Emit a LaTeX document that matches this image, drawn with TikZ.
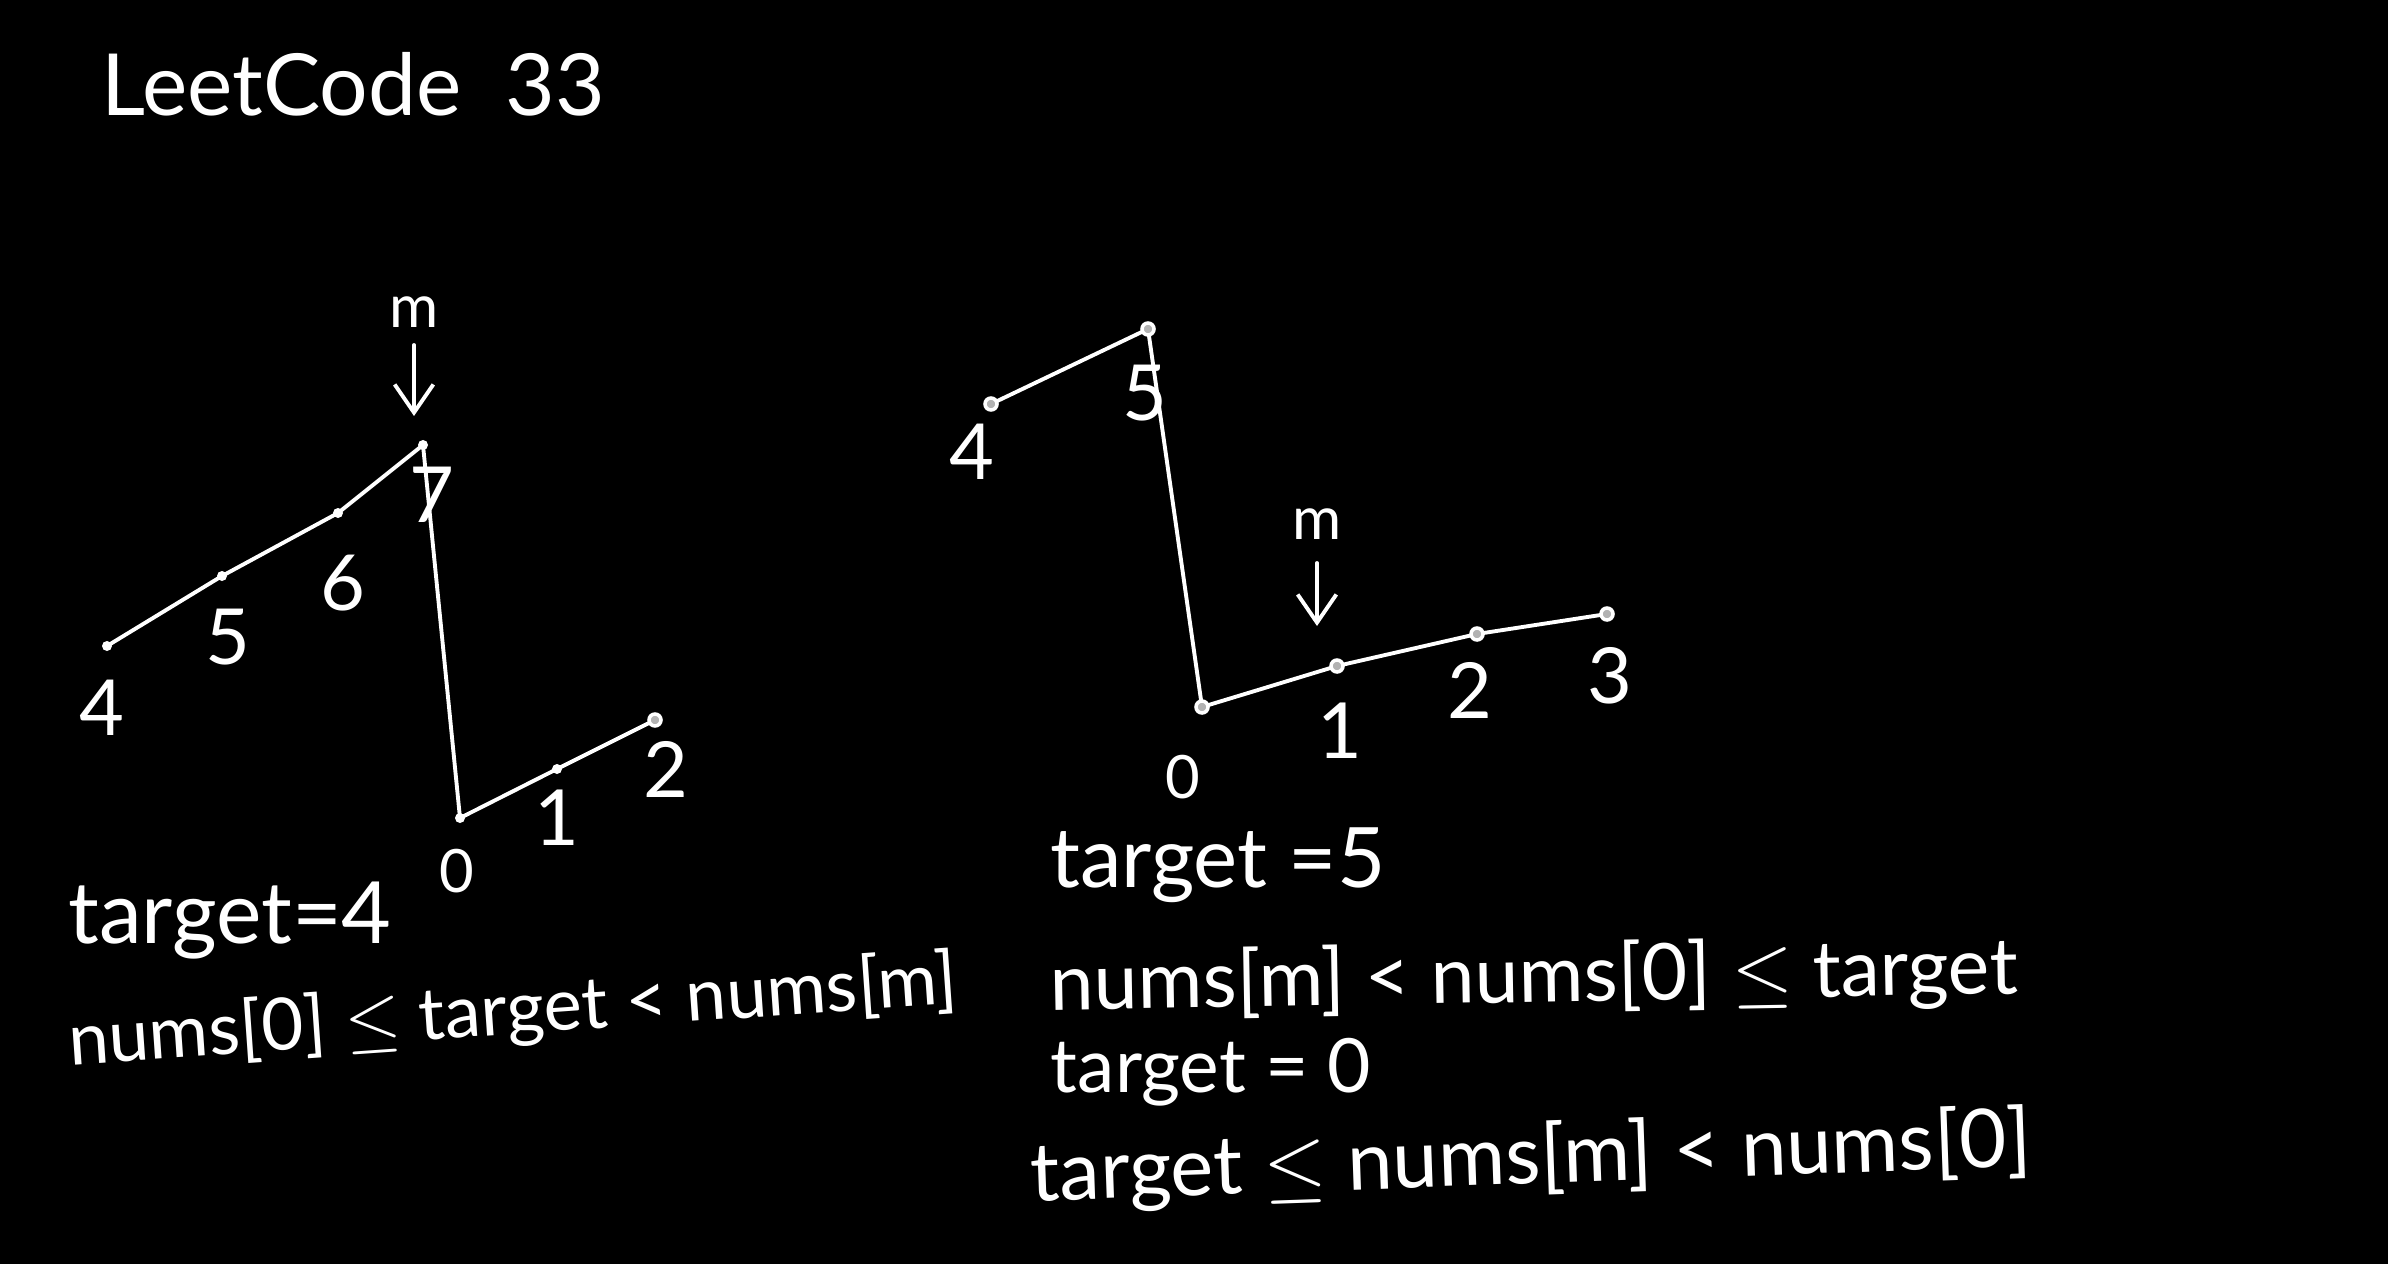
\documentclass[tikz,border=0pt]{standalone}
\usepackage{fontspec}
\setmainfont{Lato}
\usetikzlibrary{arrows.meta}
\begin{document}
\begin{tikzpicture}[x=0.01cm,y=-0.01cm,
  stroke/.style={draw=white,line width=1.1pt,line cap=round,line join=round},
  lab/.style={text=white,inner sep=0pt,font=\fontsize{22}{24}\selectfont},
  smalllab/.style={text=white,inner sep=0pt,font=\fontsize{17}{19}\selectfont},
  txt/.style={text=white,inner sep=0pt},
  marrow/.style={stroke,-{Straight Barb[length=8pt,width=11pt,line width=1.1pt]}},
  ring/.style={draw=white,line width=1pt,fill=gray!60}]
\fill[black] (0,0) rectangle (2388,1264);
\useasboundingbox (0,0) rectangle (2388,1264);

% title
\node[txt] (title) at (353,84) {\resizebox{5.03cm}{!}{LeetCode\ \ 33}};

% ---------- left diagram ----------
\coordinate (L4) at (107,646);
\coordinate (L5) at (222,576);
\coordinate (L6) at (338,513);
\coordinate (L7) at (423,445);
\coordinate (L0) at (460,818);
\coordinate (L1) at (557,769);
\coordinate (L2) at (655,720);
\draw[stroke] (L4) -- (L5) -- (L6) -- (L7) -- (L0) -- (L1) -- (L2);
\foreach \p in {L4,L5,L6,L7,L0,L1}{\fill[white] (\p) circle (5);}
\draw[ring] (L2) circle (6);

\node[lab] (l4) at (102,708) {4};
\node[lab] (l5) at (228,637) {5};
\node[lab] (l6) at (343,583) {6};
\node[lab] (l7) at (432,495) {7};
\node[smalllab] (l0) at (457,871) {0};
\node[lab] (l1) at (557,818) {1};
\node[lab] (l2) at (666,769) {2};

\node[smalllab] (lm) at (414,312) {m};
\coordinate (lmA) at (414,345);
\coordinate (lmB) at (414,416);
\draw[marrow] (lmA) -- (lmB);

\node[txt] (lt) at (230,921) {\resizebox{3.23cm}{!}{target=4}};
\node[txt,rotate=4] (lf) at (513,1013) {\resizebox{8.9cm}{!}{nums[0] $\leq$ target < nums[m]}};

% ---------- right diagram ----------
\coordinate (R4) at (991,404);
\coordinate (R5) at (1148,329);
\coordinate (R0) at (1202,707);
\coordinate (R1) at (1337,666);
\coordinate (R2) at (1477,634);
\coordinate (R3) at (1607,614);
\draw[stroke] (R4) -- (R5) -- (R0) -- (R1) -- (R2) -- (R3);
\foreach \p in {R4,R5,R0,R1,R2,R3}{\draw[ring] (\p) circle (6);}

\node[lab] (r4) at (972,452) {4};
\node[lab] (r5) at (1145,393) {5};
\node[smalllab] (r0) at (1183,777) {0};
\node[lab] (r1) at (1340,731) {1};
\node[lab] (r2) at (1470,690) {2};
\node[lab] (r3) at (1610,676) {3};

\node[smalllab] (rm) at (1317,524) {m};
\coordinate (rmA) at (1317,563);
\coordinate (rmB) at (1317,626);
\draw[marrow] (rmA) -- (rmB);

\node[txt] (rt1) at (1218,865) {\resizebox{3.35cm}{!}{target =5}};
\node[txt,rotate=1] (rf1) at (1534,979) {\resizebox{9.67cm}{!}{nums[m] < nums[0] $\leq$ target}};
\node[txt] (rt2) at (1211,1072) {\resizebox{3.2cm}{!}{target = 0}};
\node[txt,rotate=2] (rf2) at (1531,1160) {\resizebox{10cm}{!}{target $\leq$ nums[m] < nums[0]}};
\end{tikzpicture}
\end{document}
